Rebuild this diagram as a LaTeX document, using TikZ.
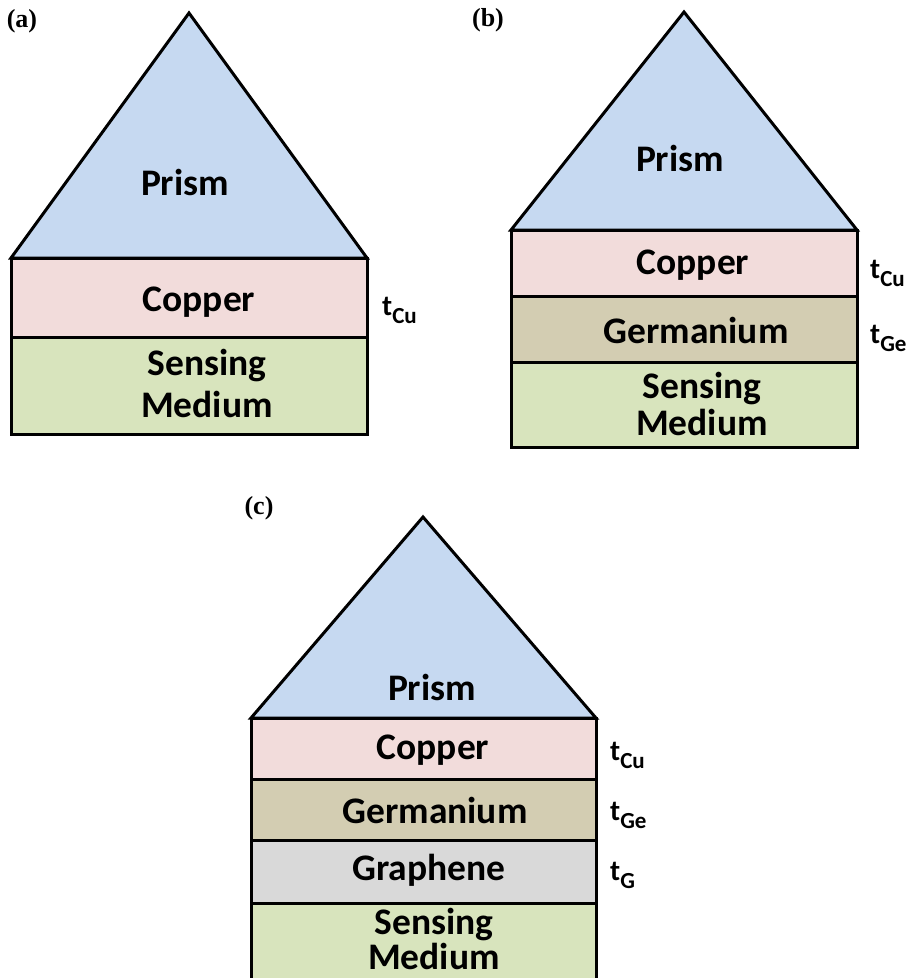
\documentclass[tikz,border=0pt]{standalone}
\usepackage{fontspec}
\newfontfamily\calfont{Carlito}
\newfontfamily\serfont{Liberation Serif}
\definecolor{prismc}{HTML}{C6D9F1}
\definecolor{copperc}{HTML}{F2DCDB}
\definecolor{gec}{HTML}{D3CDB2}
\definecolor{grc}{HTML}{D9D9D9}
\definecolor{sensc}{HTML}{D8E4BD}
\newcommand\tlab[1]{{\fontsize{29}{29}\selectfont t}\raisebox{-8pt}{\fontsize{23}{23}\selectfont #1}}
\begin{document}
\begin{tikzpicture}[x=1pt,y=-1pt,
  layer/.style={draw=black,line width=3pt},
  lbl/.style={font=\calfont\bfseries\fontsize{37.5}{40}\selectfont,align=center,inner sep=0pt},
  sens/.style={lbl,anchor=base,font=\calfont\bfseries\fontsize{37.5}{#1}\selectfont},
  thk/.style={font=\calfont\bfseries,anchor=base west,inner sep=0pt},
  panel/.style={font=\serfont\bfseries\fontsize{26}{26}\selectfont,inner sep=0pt}]
\useasboundingbox (0,0) rectangle (917,978);
% ---------- (a)
\filldraw[layer,fill=prismc] (11,258) -- (189,13) -- (367,258) -- cycle;
\filldraw[layer,fill=copperc] (11,258) rectangle (367,337);
\filldraw[layer,fill=sensc] (11,337) rectangle (367,434);
\node[panel] (la) at (22,21) {(a)};
\node[lbl] (pa) at (185,182) {Prism};
\node[lbl] (ca) at (199,302) {Copper};
\node[sens=42] (sa) at (207,417) {Sensing\\Medium};
\node[thk] (tca) at (382,315) {\tlab{Cu}};
% ---------- (b)
\filldraw[layer,fill=prismc] (511,230) -- (684,12) -- (857,230) -- cycle;
\filldraw[layer,fill=copperc] (511,230) rectangle (857,296);
\filldraw[layer,fill=gec] (511,296) rectangle (857,362);
\filldraw[layer,fill=sensc] (511,362) rectangle (857,447);
\node[panel] (lb) at (488,20) {(b)};
\node[lbl] (pb) at (680,158) {Prism};
\node[lbl] (cb) at (693,265) {Copper};
\node[lbl] (gb) at (696,330) {Germanium};
\node[sens=37] (sb) at (702,435) {Sensing\\Medium};
\node[thk] (tcb) at (870,278) {\tlab{Cu}};
\node[thk] (tgb) at (870,343) {\tlab{Ge}};
% ---------- (c)
\filldraw[layer,fill=prismc] (251,718) -- (423,517) -- (596,718) -- cycle;
\filldraw[layer,fill=copperc] (251,718) rectangle (596,779);
\filldraw[layer,fill=gec] (251,779) rectangle (596,840);
\filldraw[layer,fill=grc] (251,840) rectangle (596,903);
\fill[sensc] (251,903) rectangle (596,978);
\draw[layer] (251,978) -- (251,903) -- (596,903) -- (596,978);
\node[panel] (lc) at (259,508) {(c)};
\node[lbl] (pc) at (432,687) {Prism};
\node[lbl] (cc) at (433,750) {Copper};
\node[lbl] (gc) at (435,810) {Germanium};
\node[lbl] (grc) at (429,870) {Graphene};
\node[sens=35] (sc) at (434,969) {Sensing\\Medium};
\node[thk] (tcc) at (610,760) {\tlab{Cu}};
\node[thk] (tgc) at (610,820) {\tlab{Ge}};
\node[thk] (tgg) at (610,880) {\tlab{G}};
\end{tikzpicture}
\end{document}
